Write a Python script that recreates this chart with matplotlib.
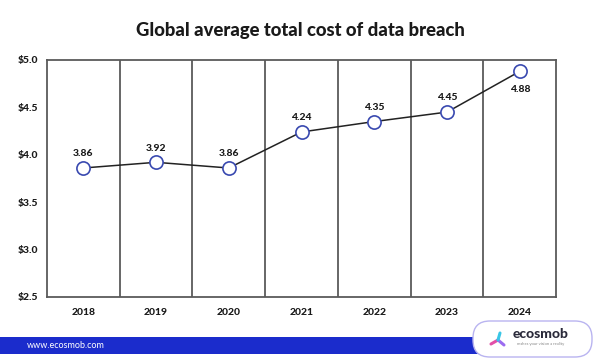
import matplotlib.pyplot as plt
from matplotlib.patches import FancyBboxPatch, Rectangle

# chart data
years = ["2018", "2019", "2020", "2021", "2022", "2023", "2024"]
costs = [3.86, 3.92, 3.86, 4.24, 4.35, 4.45, 4.88]
y_ticks = [2.5, 3.0, 3.5, 4.0, 4.5, 5.0]

GRID = "#5a5a5a"
TEXT = "#1a1a1a"
BLUE = "#1b2ccc"

plt.rcParams["font.family"] = ["Lato", "DejaVu Sans"]

fig = plt.figure(figsize=(6, 3.59), dpi=100)
ax = fig.add_axes([0.078, 0.173, 0.849, 0.66])

x = list(range(len(years)))
ax.plot(x, costs, color="#222222", linewidth=1.1, zorder=3)
ax.plot(x, costs, linestyle="none", marker="o", markersize=9.5,
        markerfacecolor="white", markeredgecolor="#3949b0", markeredgewidth=1.2, zorder=4)

# value labels, the last one sits under its point
for i, v in enumerate(costs):
    if i == len(costs) - 1:
        ax.annotate(f"{v:.2f}", (i, v), xytext=(0, -10), textcoords="offset points",
                    ha="center", va="top", fontsize=7.5, fontweight="black", color=TEXT)
    else:
        ax.annotate(f"{v:.2f}", (i, v), xytext=(0, 7), textcoords="offset points",
                    ha="center", va="bottom", fontsize=7.5, fontweight="black", color=TEXT)

ax.set_xlim(-0.5, len(years) - 0.5)
ax.set_ylim(2.5, 5.0)
ax.set_yticks(y_ticks)
ax.set_yticklabels([f"${t:.1f}" for t in y_ticks])
ax.set_xticks(x)
ax.set_xticklabels(years)
ax.tick_params(length=0, labelsize=7.5, colors=TEXT, pad=8)
for lbl in ax.get_xticklabels() + ax.get_yticklabels():
    lbl.set_fontweight("black")
ax.tick_params(axis="y", pad=6)

# vertical separators between the years
for b in range(len(years) - 1):
    ax.axvline(b + 0.5, color=GRID, linewidth=1.3, zorder=1)
for s in ax.spines.values():
    s.set_color(GRID)
    s.set_linewidth(1.3)

fig.text(0.5, 0.915, "Global average total cost of data breach", ha="center", va="center",
         fontsize=13.3, fontweight="black", color=TEXT)

# footer drawn on an overlay in pixel units
ov = fig.add_axes([0, 0, 1, 1])
ov.set_xlim(0, 600)
ov.set_ylim(359, 0)
ov.axis("off")
ov.add_patch(Rectangle((0, 337), 480, 17, facecolor=BLUE, edgecolor="none"))
ov.text(27, 345.5, "www.ecosmob.com", color="white", fontsize=6.5, ha="left", va="center")
ov.add_patch(FancyBboxPatch((473, 321), 119, 36, boxstyle="round,pad=0,rounding_size=17",
                            facecolor="white", edgecolor="#b9b4f0", linewidth=1.0))
ov.text(541, 334, "ecosmob", color="#2a2a3a", fontsize=10, fontweight="black",
        ha="center", va="center")
ov.text(541, 344.5, "makes your vision a reality", color="#888888", fontsize=3,
        ha="center", va="center")

# little three-armed logo mark
cx, cy = 498, 340
arms = [((-7, 4), "#e24fa8"), ((6, 5), "#9b6cf0"), ((2, -7), "#39c6e6")]
for (dx, dy), col in arms:
    ov.plot([cx, cx + dx], [cy, cy + dy], color=col, linewidth=2.2, solid_capstyle="round")

fig.savefig("out.png", dpi=100)
